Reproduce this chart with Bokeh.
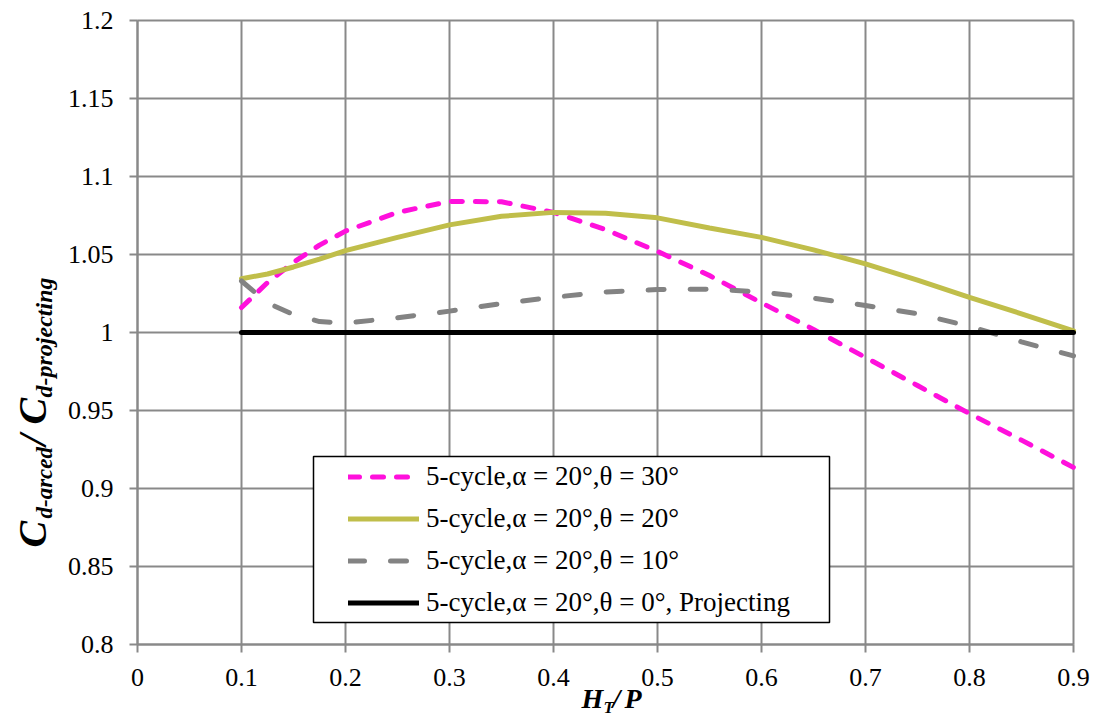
from math import pi
from bokeh.plotting import figure
from bokeh.models import (Range1d, FixedTicker, Legend, LegendItem, BoxAnnotation,
                          Label, CustomJSTickFormatter)
from bokeh.embed import file_html
from bokeh.resources import INLINE

# ---------------- data ----------------
x_vals = [0.1, 0.125, 0.15, 0.175, 0.2, 0.25, 0.3, 0.35, 0.4, 0.45, 0.5,
          0.55, 0.6, 0.65, 0.7, 0.75, 0.8, 0.85, 0.9]
theta30 = [1.016, 1.032, 1.045, 1.056, 1.065, 1.077, 1.0840, 1.0838, 1.077, 1.066,
           1.052, 1.0365, 1.019, 1.002, 0.984, 0.966, 0.948, 0.931, 0.9135]
theta20 = [1.0345, 1.0375, 1.042, 1.047, 1.0525, 1.061, 1.069, 1.0745, 1.077, 1.0765,
           1.0735, 1.067, 1.061, 1.053, 1.044, 1.0335, 1.0225, 1.012, 1.001]
theta10 = [1.033, 1.019, 1.0115, 1.007, 1.006, 1.0095, 1.0137, 1.0186, 1.0226, 1.026,
           1.0275, 1.0278, 1.026, 1.022, 1.0173, 1.012, 1.004, 0.994, 0.985]
x_proj = [0.1, 0.9]
theta0 = [1.0, 1.0]

series_labels = ["5-cycle,α = 20°,θ = 30°",
                 "5-cycle,α = 20°,θ = 20°",
                 "5-cycle,α = 20°,θ = 10°",
                 "5-cycle,α = 20°,θ = 0°, Projecting"]

x_ticks = [0, 0.1, 0.2, 0.3, 0.4, 0.5, 0.6, 0.7, 0.8, 0.9]
x_tick_labels = ["0", "0.1", "0.2", "0.3", "0.4", "0.5", "0.6", "0.7", "0.8", "0.9"]
y_ticks = [0.8, 0.85, 0.9, 0.95, 1.0, 1.05, 1.1, 1.15, 1.2]
y_tick_labels = ["0.8", "0.85", "0.9", "0.95", "1", "1.05", "1.1", "1.15", "1.2"]

# ---------------- layout ----------------
W, H = 1098, 723
FL, FR, FT, FB = 137, 1073, 20, 644   # plot-area edges in pixels
X0, X1, Y0, Y1 = 0.0, 0.9, 0.8, 1.2

def px2x(px):
    return X0 + (px - FL) / (FR - FL) * (X1 - X0)

def py2y(py):
    return Y1 - (py - FT) / (FB - FT) * (Y1 - Y0)

FONT = "Liberation Serif"
GRID = "#898989"

# the frame spans the whole canvas; axes are pinned at the plot-area edges
p = figure(width=W, height=H,
           x_range=Range1d(px2x(0), px2x(W)), y_range=Range1d(py2y(H), py2y(0)),
           output_backend="svg", toolbar_location=None,
           min_border=0, min_border_left=0, min_border_right=0,
           min_border_top=0, min_border_bottom=0)
p.outline_line_color = None
p.background_fill_color = "white"
p.border_fill_color = "white"

fmt_code = """
for (let i = 0; i < tks.length; i++) {
  if (Math.abs(tks[i] - tick) < 1e-9) { return lbls[i]; }
}
return '';
"""
p.xaxis.ticker = FixedTicker(ticks=x_ticks)
p.yaxis.ticker = FixedTicker(ticks=y_ticks)
p.xaxis.formatter = CustomJSTickFormatter(args=dict(tks=x_ticks, lbls=x_tick_labels), code=fmt_code)
p.yaxis.formatter = CustomJSTickFormatter(args=dict(tks=y_ticks, lbls=y_tick_labels), code=fmt_code)
p.xaxis.fixed_location = Y0
p.yaxis.fixed_location = X0
p.xaxis.bounds = (X0, X1)
p.yaxis.bounds = (Y0, Y1)

for ax in (p.xaxis, p.yaxis):
    ax.axis_line_color = GRID
    ax.axis_line_width = 2
    ax.major_tick_line_color = GRID
    ax.major_tick_line_width = 2
    ax.major_tick_out = 8
    ax.major_tick_in = 0
    ax.minor_tick_line_color = None
    ax.major_label_text_font = FONT
    ax.major_label_text_font_size = "26px"
    ax.major_label_text_color = "black"
p.xaxis.major_label_standoff = 16
p.yaxis.major_label_standoff = 16

# grid lines limited to the plot area
xg, yg = p.xgrid[0], p.ygrid[0]
if "cross_bounds" in xg.properties():
    xg.cross_bounds = (Y0, Y1)
    yg.cross_bounds = (X0, X1)
    for g in (xg, yg):
        g.grid_line_color = GRID
        g.grid_line_width = 2
else:
    xg.visible = False
    yg.visible = False
    p.segment(x0=x_ticks, y0=[Y0] * len(x_ticks), x1=x_ticks, y1=[Y1] * len(x_ticks),
              line_color=GRID, line_width=2)
    p.segment(x0=[X0] * len(y_ticks), y0=y_ticks, x1=[X1] * len(y_ticks), y1=y_ticks,
              line_color=GRID, line_width=2)

# ---------------- lines ----------------
r30 = p.line(x_vals, theta30, line_color="#FF10DC", line_width=5,
             line_dash="11 13", line_cap="round")
r20 = p.line(x_vals, theta20, line_color="#C0BE4A", line_width=5, line_cap="round")
r10 = p.line(x_vals, theta10, line_color="#838383", line_width=5,
             line_dash="16 26", line_cap="round")
r0 = p.line(x_proj, theta0, line_color="black", line_width=5, line_cap="round")

# ---------------- legend ----------------
box = BoxAnnotation(left=px2x(313), right=px2x(829), top=py2y(456), bottom=py2y(622),
                    fill_color="white", fill_alpha=1.0,
                    line_color="black", line_alpha=1.0, line_width=1.5)
p.add_layout(box)

legend = Legend(items=[LegendItem(label=series_labels[0], renderers=[r30]),
                       LegendItem(label=series_labels[1], renderers=[r20]),
                       LegendItem(label=series_labels[2], renderers=[r10]),
                       LegendItem(label=series_labels[3], renderers=[r0])],
                location=(348, H - 456 - 167), padding=0, margin=0, spacing=1,
                glyph_width=71, glyph_height=41, label_height=41, label_standoff=7,
                label_text_font=FONT, label_text_font_size="27px",
                label_text_color="black", label_text_baseline="middle",
                border_line_color=None, background_fill_alpha=0.0)
p.add_layout(legend)

# ---------------- axis titles ----------------
MID = 0.3375  # distance from baseline to text middle, in em

def add_text(txt, px, py, size, angle=0.0):
    # (px, py): start of the text on its baseline; anchor placed at text middle
    if angle:
        ax_, ay_ = px - MID * size, py
    else:
        ax_, ay_ = px, py - MID * size
    p.add_layout(Label(x=px2x(ax_), y=py2y(ay_), x_units="data", y_units="data",
                       text=txt, angle=angle, text_font=FONT, text_font_style="bold italic",
                       text_font_size=f"{size}px", text_color="black",
                       text_align="left", text_baseline="middle"))

# y title, reading bottom to top
add_text("C", 45, 547, 40, pi / 2)
add_text("d-arced", 52, 518, 23, pi / 2)
add_text("/", 45, 445, 40, pi / 2)
add_text("C", 45, 424, 40, pi / 2)
add_text("d-projecting", 52, 397, 24, pi / 2)

# x title
add_text("H", 581, 707, 28)
add_text("T", 603, 713, 17)
add_text("/", 612, 707, 28)
add_text("P", 624, 707, 28)

open("out.html", "w").write(file_html(p, INLINE))
